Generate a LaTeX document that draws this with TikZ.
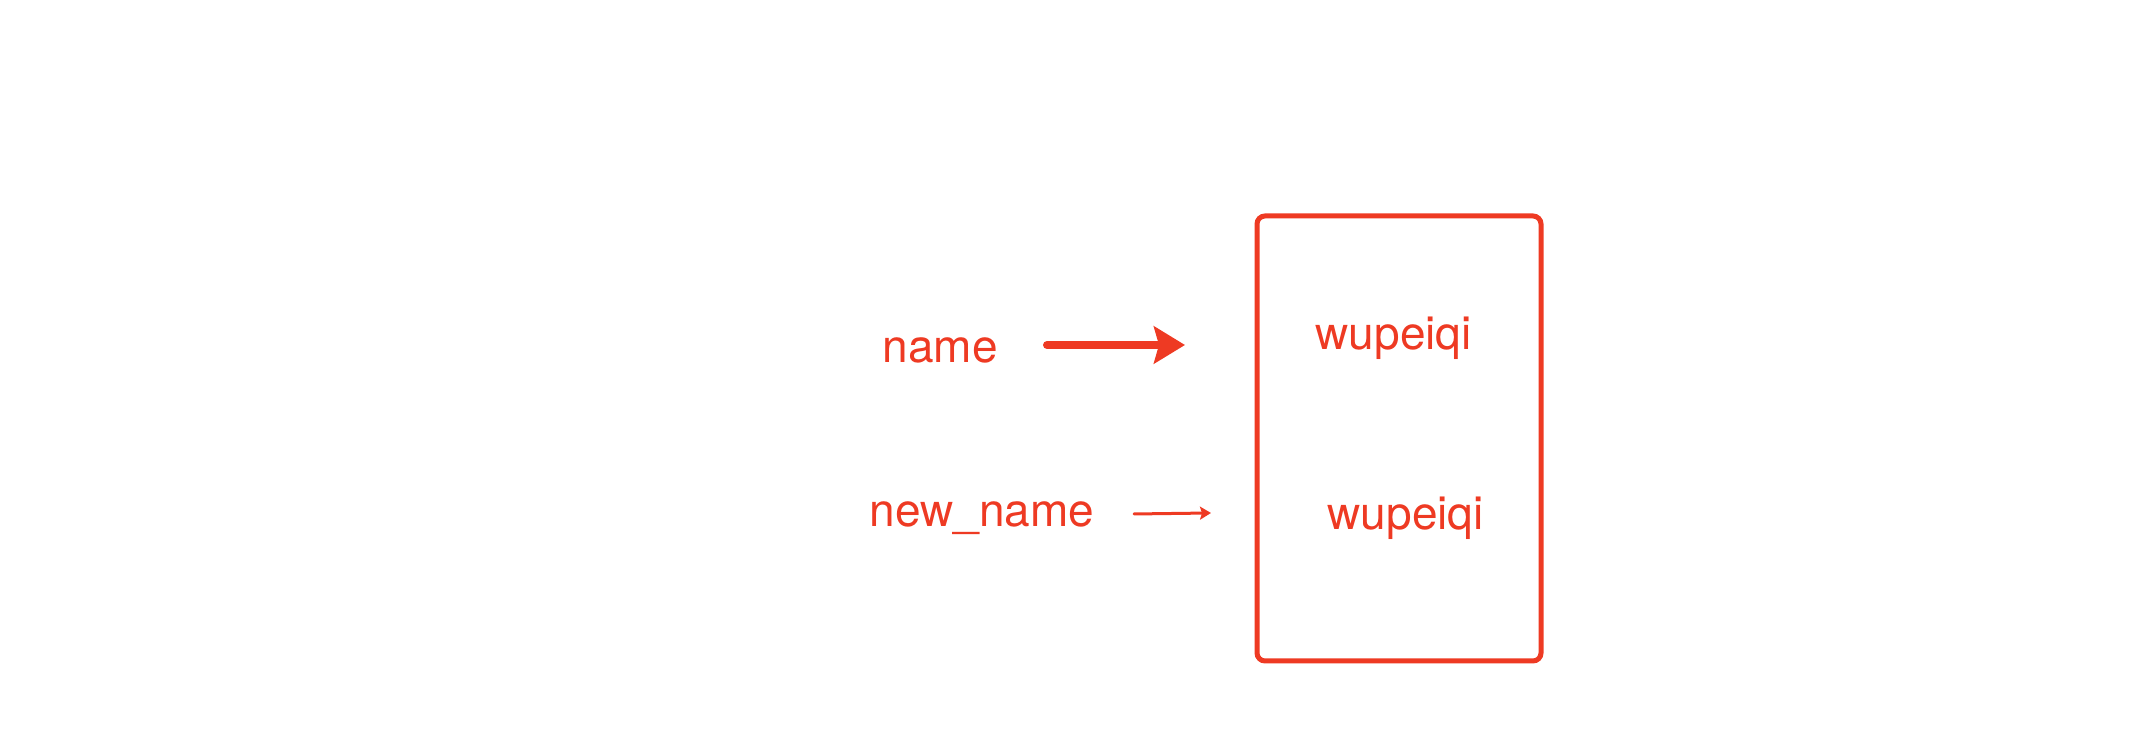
\documentclass[tikz,border=0pt]{standalone}
\usepackage{fontspec}
\setmainfont{TeX Gyre Heros}
\usetikzlibrary{arrows.meta}

\definecolor{refred}{HTML}{EE3A23}

\begin{document}
\begin{tikzpicture}[
    lbl/.style={text=refred, font=\fontsize{13.1pt}{15pt}\selectfont,
                inner sep=0pt, anchor=base west},
    membox/.style={draw=refred, line width=0.05cm, rounded corners=0.08cm},
    bigarr/.style={-{Stealth[length=0.31cm, width=0.37cm, inset=0.05cm]},
                   draw=refred, fill=refred, line width=0.08cm, line cap=round},
    smallarr/.style={-{Stealth[length=0.11cm, width=0.13cm, inset=0.02cm]},
                     draw=refred, fill=refred, line width=0.03cm, line cap=round},
]
\useasboundingbox (0,0) rectangle (21.5,7.34);

%% variable names (left)
\node[lbl] (name)    at (8.82,3.71) {name};
\node[lbl] (newname) at (8.69,2.07) {new\_name};

%% memory box with values
\draw[membox] (12.57,5.18) rectangle (15.41,0.73);
\node[lbl] (val1) at (13.15,3.84) {wupeiqi};
\node[lbl] (val2) at (13.27,2.04) {wupeiqi};

%% arrow ends
\coordinate (a1s) at (10.47,3.89);
\coordinate (a1e) at (11.85,3.89);
\coordinate (a2s) at (11.34,2.20);
\coordinate (a2e) at (12.11,2.21);

\draw[bigarr]   (a1s) -- (a1e);
\draw[smallarr] (a2s) -- (a2e);

\end{tikzpicture}
\end{document}
